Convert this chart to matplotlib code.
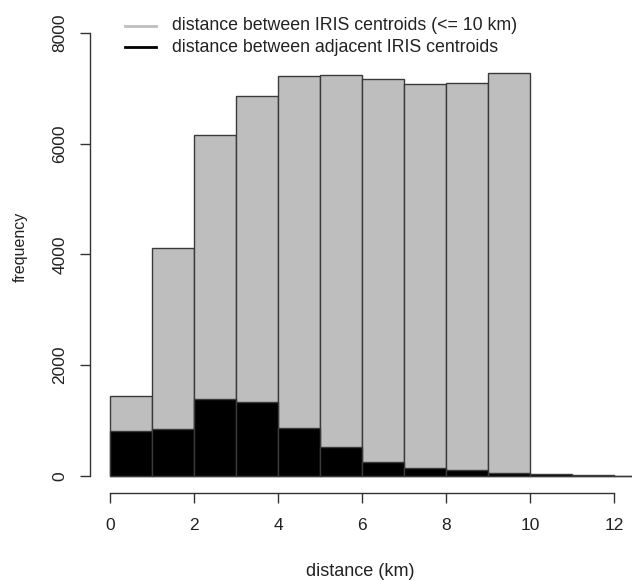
import matplotlib
matplotlib.use("Agg")
import matplotlib.pyplot as plt
from matplotlib.lines import Line2D
import numpy as np

plt.rcParams["font.family"] = ["Liberation Sans", "DejaVu Sans"]

# histogram bins (km) and counts
bin_edges = np.arange(0, 14, 1)
all_counts = [1440, 4120, 6155, 6860, 7220, 7245, 7160, 7075, 7095, 7280, 0, 0, 0]
adj_counts = [818, 848, 1384, 1341, 872, 529, 253, 139, 108, 60, 30, 15, 0]
legend_labels = ["distance between IRIS centroids (<= 10 km)",
                 "distance between adjacent IRIS centroids"]
x_ticks = [0, 2, 4, 6, 8, 10, 12]
y_ticks = [0, 2000, 4000, 6000, 8000]

W, H = 632, 580
fig = plt.figure(figsize=(W / 100, H / 100), dpi=100)
ax = fig.add_axes([90 / W, (H - 493) / H, (W - 90) / W, 493 / H])

left = bin_edges[:-1]
width = np.diff(bin_edges)
ax.bar(left, all_counts, width=width, align="edge", color="#bebebe",
       edgecolor="#3a3a3a", linewidth=1.0)
ax.bar(left, adj_counts, width=width, align="edge", color="black",
       edgecolor="#3a3a3a", linewidth=1.0)

ax.set_xlim(-0.476, 12.43)
ax.set_ylim(-307, 8592)

for s in ["top", "right"]:
    ax.spines[s].set_visible(False)
ax.spines["left"].set_bounds(0, 8000)
ax.spines["bottom"].set_bounds(0, 12)
for s in ["left", "bottom"]:
    ax.spines[s].set_color("#333333")
    ax.spines[s].set_linewidth(1.0)

ax.set_xticks(x_ticks)
ax.set_xticklabels([str(t) for t in x_ticks])
ax.set_yticks(y_ticks)
ax.set_yticklabels([str(t) for t in y_ticks], rotation=90, va="center")
ax.tick_params(axis="both", direction="out", length=7.2, width=1.0,
               color="#333333", labelsize=12.5, labelcolor="#222222")
ax.tick_params(axis="x", pad=11)
ax.tick_params(axis="y", pad=9)

fig.text(360 / W, 1 - 571 / H, "distance (km)", ha="center", va="center",
         fontsize=13, color="#222222")
fig.text(20 / W, 1 - 247 / H, "frequency", ha="center", va="center",
         rotation=90, fontsize=11.5, color="#222222")

# legend drawn by hand, R style
for i, (lab, col) in enumerate(zip(legend_labels, ["#bebebe", "black"])):
    yy = 1 - (26 + 21 * i) / H
    fig.add_artist(Line2D([125 / W, 156 / W], [yy, yy], color=col,
                          linewidth=2.0, transform=fig.transFigure))
    fig.text(172 / W, yy, lab, ha="left", va="center", fontsize=12.8,
             color="#222222")

fig.savefig("out.png", dpi=100)
